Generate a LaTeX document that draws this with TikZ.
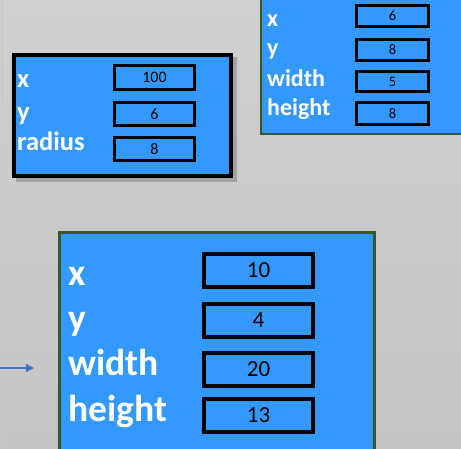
\documentclass[tikz,border=0pt]{standalone}
\usepackage{fontspec}
\setmainfont{Carlito}
\usetikzlibrary{arrows.meta}
\definecolor{fieldblue}{RGB}{51,153,255}
\definecolor{frameolive}{RGB}{56,87,35}
\definecolor{linkblue}{RGB}{68,114,196}
\definecolor{bgtop}{RGB}{208,208,208}
\definecolor{bgbottom}{RGB}{197,197,197}
\tikzset{
  objbox/.style={rectangle, fill=fieldblue, inner sep=0pt},
  valbox/.style={rectangle, draw=black, fill=fieldblue, inner sep=0pt, text=black},
  fieldlabel/.style={anchor=base west, inner sep=0pt, text=white},
}
\begin{document}
\begin{tikzpicture}[x=1pt,y=-1pt]
  \useasboundingbox (0,0) rectangle (461,448);
  \clip (0,0) rectangle (461,448);
  % backdrop
  \shade[top color=bgtop, bottom color=bgbottom] (0,0) rectangle (461,448);
  \draw[black!22, line width=0.7pt] (2.5,0) -- (2.5,448);

  % ---- circle object ----
  \fill[black!55, opacity=0.45] (16,57) rectangle (237,182);
  \node[objbox, draw=black, line width=4pt, minimum width=217pt, minimum height=121pt]
    (circ) at (122.5,115.5) {};
  \begin{scope}[every node/.append style={font=\fontsize{16}{18}\selectfont}]
    \node[valbox, line width=3pt, minimum width=80pt, minimum height=24pt] (circx) at (154.5,77.5) {100};
    \node[valbox, line width=3pt, minimum width=80pt, minimum height=23pt] (circy) at (154.5,114) {6};
    \node[valbox, line width=3pt, minimum width=80pt, minimum height=23pt] (circr) at (154.5,149) {8};
  \end{scope}
  \begin{scope}[every node/.append style={font=\fontsize{26.5}{28}\bfseries\selectfont}]
    \node[fieldlabel] (circlx) at (17,87) {x};
    \node[fieldlabel] (circly) at (17,120) {y};
    \node[fieldlabel] (circlr) at (17,150) {radius};
  \end{scope}

  % ---- small rectangle object ----
  \node[objbox, draw=frameolive, line width=2pt, minimum width=209pt, minimum height=144pt]
    (rsmall) at (365.5,62) {};
  \begin{scope}[every node/.append style={font=\fontsize{14.5}{16}\selectfont}]
    \node[valbox, line width=3pt, minimum width=72pt, minimum height=21pt] (rsx) at (392.5,16) {6};
    \node[valbox, line width=3pt, minimum width=72pt, minimum height=21pt] (rsy) at (392.5,50) {8};
    \node[valbox, line width=3pt, minimum width=72pt, minimum height=20pt] (rsw) at (392.5,81.5) {5};
    \node[valbox, line width=3pt, minimum width=72pt, minimum height=22pt] (rsh) at (392.5,113.5) {8};
  \end{scope}
  \begin{scope}[every node/.append style={font=\fontsize{24}{26}\bfseries\selectfont}]
    \node[fieldlabel] (rslx) at (267,26) {x};
    \node[fieldlabel] (rsly) at (267,55) {y};
    \node[fieldlabel] (rslw) at (267,86) {width};
    \node[fieldlabel] (rslh) at (267,115) {height};
  \end{scope}

  % ---- large rectangle object ----
  \node[objbox, draw=frameolive, line width=2.5pt, minimum width=315pt, minimum height=237pt]
    (rbig) at (217,351) {};
  \begin{scope}[every node/.append style={font=\fontsize{23}{25}\selectfont}]
    \node[valbox, line width=4pt, minimum width=109pt, minimum height=33pt] (rbx) at (258.5,270.5) {10};
    \node[valbox, line width=4pt, minimum width=109pt, minimum height=33pt] (rby) at (258.5,320.5) {4};
    \node[valbox, line width=4pt, minimum width=109pt, minimum height=33pt] (rbw) at (258.5,369.5) {20};
    \node[valbox, line width=4pt, minimum width=109pt, minimum height=33pt] (rbh) at (258.5,415.5) {13};
  \end{scope}
  \begin{scope}[every node/.append style={font=\fontsize{37.5}{40}\bfseries\selectfont}]
    \node[fieldlabel] (rblx) at (68,285) {x};
    \node[fieldlabel] (rbly) at (68,330) {y};
    \node[fieldlabel] (rblw) at (68,375) {width};
    \node[fieldlabel] (rblh) at (68,421) {height};
  \end{scope}

  % ---- reference arrow ----
  \coordinate (reftail) at (0,368);
  \coordinate (refhead) at (34,368);
  \draw[linkblue, line width=1.5pt, -{Triangle[length=8pt,width=8pt]}] (reftail) -- (refhead);
\end{tikzpicture}
\end{document}
